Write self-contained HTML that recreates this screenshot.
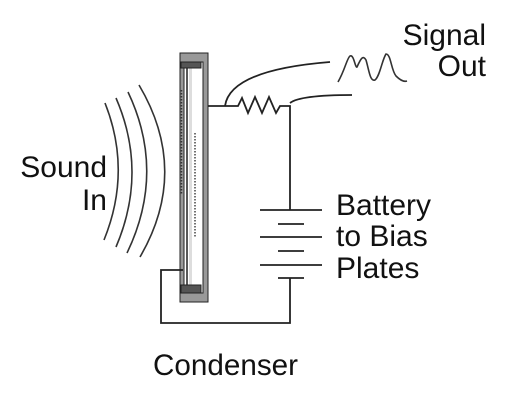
<!DOCTYPE html>
<html><head><meta charset="utf-8"><style>
html,body{margin:0;padding:0;background:#fff;}
svg{display:block;}
text{font-family:"Liberation Sans",sans-serif;font-size:30px;fill:#111;}
</style></head><body>
<svg width="530" height="412" viewBox="0 0 530 412">
<g fill="none" stroke="#333" stroke-width="1.6">
<path d="M105,103 Q132,171 104,240"/>
<path d="M116,98 Q148,172 116,247"/>
<path d="M128,92 Q166,172 127,253"/>
<path d="M139,85 Q190,171 140,257"/>
</g>
<g>
<rect x="180" y="53" width="28" height="249" fill="#999" stroke="#222" stroke-width="1"/>
<rect x="184" y="62" width="19" height="231" fill="#fff" stroke="#222" stroke-width="1"/>
<line x1="187" y1="64" x2="187" y2="291" stroke="#222" stroke-width="1.5"/>
<rect x="189" y="66" width="3" height="222" fill="#ddd"/>
<rect x="181" y="62" width="20" height="6" fill="#555" stroke="#222"/>
<rect x="181" y="285" width="20" height="8" fill="#555" stroke="#222"/>
<line x1="181.5" y1="90" x2="181.5" y2="195" stroke="#333" stroke-width="1.5" stroke-dasharray="1.5,1.5"/>
<line x1="195" y1="133" x2="195" y2="238" stroke="#444" stroke-width="1.5" stroke-dasharray="1.5,1.5"/>
</g>
<g fill="none" stroke="#222" stroke-width="1.8">
<path d="M208,106 H238 L242,98 L248,113 L255,97 L262,113 L269,97 L276,113 L280,106 H290 V210"/>
<path d="M290,278 V323 H161 V270 H183"/>
<path d="M225,106 Q230,70 330,62"/>
<path d="M290,103 Q300,95 352,95"/>
</g>
<g stroke="#222" stroke-width="1.8">
<line x1="260" y1="210" x2="322" y2="210"/>
<line x1="278" y1="224" x2="304" y2="224"/>
<line x1="260" y1="237" x2="322" y2="237"/>
<line x1="278" y1="251" x2="304" y2="251"/>
<line x1="260" y1="265" x2="322" y2="265"/>
<line x1="278" y1="278" x2="304" y2="278"/>
</g>
<path fill="none" stroke="#333" stroke-width="1.6" d="M338,82 C345,70 347,58 350,56 C354,54 355,68 357,67 C361,58 363,55 366,60 C369,70 370,82 375,80 C380,76 382,60 386,54 C391,54 391,70 396,76 C400,80 404,82 407,81"/>
<text x="486" y="45" text-anchor="end">Signal</text>
<text x="486" y="76" text-anchor="end">Out</text>
<text x="107" y="177" text-anchor="end">Sound</text>
<text x="107" y="210" text-anchor="end">In</text>
<text x="336" y="215">Battery</text>
<text x="336" y="246">to Bias</text>
<text x="336" y="278">Plates</text>
<text x="153" y="375" textLength="145" lengthAdjust="spacingAndGlyphs">Condenser</text>
</svg>
</body></html>
